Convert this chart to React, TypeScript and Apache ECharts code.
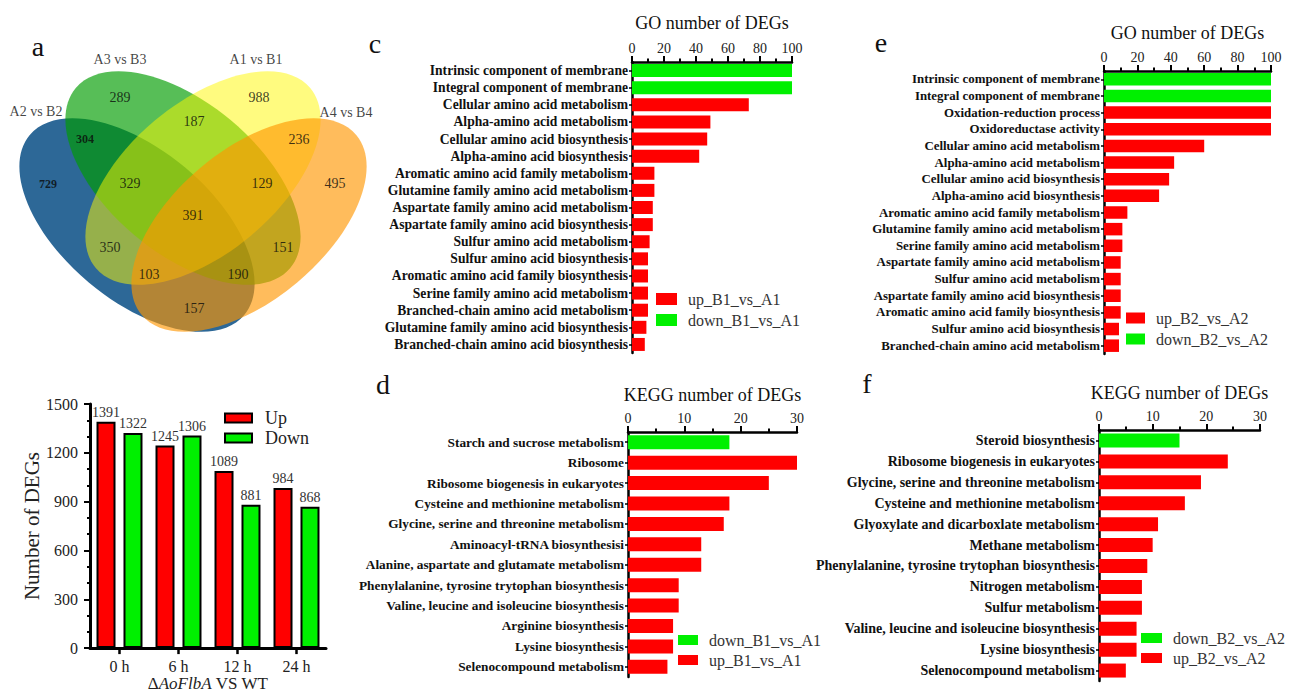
import React, { useEffect, useRef } from "react";
import * as echarts from "echarts";

const FONT = "'Liberation Serif', 'Times New Roman', Times, serif";

// ---------- Panel a: Venn ----------
const vennSets = ["A2 vs B2", "A3 vs B3", "A1 vs B1", "A4 vs B4"];
const vennCounts = [289, 988, 187, 304, 236, 729, 329, 129, 495, 391, 350, 151, 103, 190, 157];
// layout (pixel space of the Venn grid)
const vennCountPos = [
  [120, 97], [259, 97], [194, 121], [85, 139], [299, 139], [48, 184], [130, 183], [262, 183],
  [335, 183], [193, 215], [110, 247], [283, 247], [149, 274], [238, 274], [194, 308],
];
const vennSmall = [304, 729];
const vennSetPos = [[36, 111], [120, 59], [256, 59], [346, 112]];
// cx, cy, rx, ry, angle (deg)
const vennEllipses = [
  [137, 225, 140, 75, -40],
  [183, 178, 140, 75, -40],
  [203, 178, 140, 75, 40],
  [249, 225, 140, 75, 40],
];
const vennColors = ["#0a4f86", "#009c00", "#fff800", "#ff9600"];
const vennAlpha = [0.86, 0.66, 0.5, 0.64];

// ---------- Panel b: DEG bars ----------
const timeCats = ["0 h", "6 h", "12 h", "24 h"];
const upDEGs = [1391, 1245, 1089, 984];
const downDEGs = [1322, 1306, 881, 868];

// ---------- Panel c ----------
const cCategories = [
  "Intrinsic component of membrane", "Integral component of membrane", "Cellular amino acid metabolism",
  "Alpha-amino acid metabolism", "Cellular amino acid biosynthesis", "Alpha-amino acid biosynthesis",
  "Aromatic amino acid family metabolism", "Glutamine family amino acid metabolism",
  "Aspartate family amino acid metabolism", "Aspartate family amino acid biosynthesis",
  "Sulfur amino acid metabolism", "Sulfur amino acid biosynthesis", "Aromatic amino acid family biosynthesis",
  "Serine family amino acid metabolism", "Branched-chain amino acid metabolism",
  "Glutamine family amino acid biosynthesis", "Branched-chain amino acid biosynthesis",
];
const cUp = [null, null, 73, 49, 47, 42, 14, 14, 13, 13, 11, 10, 10, 10, 10, 9, 8];
const cDown = [100, 100, null, null, null, null, null, null, null, null, null, null, null, null, null, null, null];

// ---------- Panel e ----------
const eCategories = [
  "Intrinsic component of membrane", "Integral component of membrane", "Oxidation-reduction process",
  "Oxidoreductase activity", "Cellular amino acid metabolism", "Alpha-amino acid metabolism",
  "Cellular amino acid biosynthesis", "Alpha-amino acid biosynthesis", "Aromatic amino acid family metabolism",
  "Glutamine family amino acid metabolism", "Serine family amino acid metabolism",
  "Aspartate family amino acid metabolism", "Sulfur amino acid metabolism",
  "Aspartate family amino acid biosynthesis", "Aromatic amino acid family biosynthesis",
  "Sulfur amino acid biosynthesis", "Branched-chain amino acid metabolism",
];
const eUp = [null, null, 100, 100, 60, 42, 39, 33, 14, 11, 11, 10, 10, 10, 10, 9, 9];
const eDown = [100, 100, null, null, null, null, null, null, null, null, null, null, null, null, null, null, null];

// ---------- Panel d ----------
const dCategories = [
  "Starch and sucrose metabolism", "Ribosome", "Ribosome biogenesis in eukaryotes",
  "Cysteine and methionine metabolism", "Glycine, serine and threonine metabolism",
  "Aminoacyl-tRNA biosynthesisi", "Alanine, aspartate and glutamate metabolism",
  "Phenylalanine, tyrosine trytophan biosynthesis", "Valine, leucine and isoleucine biosynthesis",
  "Arginine biosynthesis", "Lysine biosynthesis", "Selenocompound metabolism",
];
const dDown = [18, null, null, null, null, null, null, null, null, null, null, null];
const dUp = [null, 30, 25, 18, 17, 13, 13, 9, 9, 8, 8, 7];

// ---------- Panel f ----------
const fCategories = [
  "Steroid biosynthesis", "Ribosome biogenesis in eukaryotes", "Glycine, serine and threonine metabolism",
  "Cysteine and methionine metabolism", "Glyoxylate and dicarboxlate metabolism", "Methane metabolism",
  "Phenylalanine, tyrosine trytophan biosynthesis", "Nitrogen metabolism", "Sulfur metabolism",
  "Valine, leucine and isoleucine biosynthesis", "Lysine biosynthesis", "Selenocompound metabolism",
];
const fDown = [15, null, null, null, null, null, null, null, null, null, null, null];
const fUp = [null, 24, 19, 16, 11, 10, 9, 8, 8, 7, 7, 5];

const RED = "#ff0000";
const GREEN = "#00f000";

type Panel = {
  grid: any; title: string; max: number; interval: number; nameGap: number; labelSize: number;
  cats: string[]; up: (number | null)[]; down: (number | null)[]; upName: string; downName: string;
  barWidth: number; legend: any; legendOrder: string[];
};

const panels: Panel[] = [
  {
    grid: { left: 632, top: 62, width: 160, height: 291 }, title: "GO number of DEGs", max: 100, interval: 20,
    nameGap: 30, labelSize: 13.6, cats: cCategories, up: cUp, down: cDown, upName: "up_B1_vs_A1",
    downName: "down_B1_vs_A1", barWidth: 13,
    legend: { left: 656, top: 291, itemWidth: 21, itemHeight: 12, itemGap: 5 },
    legendOrder: ["up_B1_vs_A1", "down_B1_vs_A1"],
  },
  {
    grid: { left: 1104, top: 71, width: 167, height: 283 }, title: "GO number of DEGs", max: 100, interval: 20,
    nameGap: 29, labelSize: 12.9, cats: eCategories, up: eUp, down: eDown, upName: "up_B2_vs_A2",
    downName: "down_B2_vs_A2", barWidth: 12.5,
    legend: { left: 1126, top: 310, itemWidth: 19, itemHeight: 11, itemGap: 5 },
    legendOrder: ["up_B2_vs_A2", "down_B2_vs_A2"],
  },
  {
    grid: { left: 628, top: 432, width: 169, height: 245 }, title: "KEGG number of DEGs", max: 30, interval: 10,
    nameGap: 28, labelSize: 13.3, cats: dCategories, up: dUp, down: dDown, upName: "up_B1_vs_A1",
    downName: "down_B1_vs_A1", barWidth: 14,
    legend: { left: 678, top: 632, itemWidth: 20, itemHeight: 10, itemGap: 4 },
    legendOrder: ["down_B1_vs_A1", "up_B1_vs_A1"],
  },
  {
    grid: { left: 1099, top: 430, width: 161, height: 251 }, title: "KEGG number of DEGs", max: 30, interval: 10,
    nameGap: 28, labelSize: 14, cats: fCategories, up: fUp, down: fDown, upName: "up_B2_vs_A2",
    downName: "down_B2_vs_A2", barWidth: 14,
    legend: { left: 1141, top: 630, itemWidth: 21, itemHeight: 10, itemGap: 4 },
    legendOrder: ["down_B2_vs_A2", "up_B2_vs_A2"],
  },
];

function buildOption() {
  const grids: any[] = [
    { left: 0, top: 0, width: 380, height: 350 },
    { left: 90, top: 404, width: 236, height: 246 },
  ];
  const xAxes: any[] = [
    { gridIndex: 0, type: "value", min: 0, max: 380, show: false },
    {
      gridIndex: 1, type: "category", data: timeCats,
      axisLine: { lineStyle: { color: "#000", width: 3 } },
      axisTick: { show: true, alignWithLabel: true, length: 6, lineStyle: { color: "#000", width: 2.5 } },
      axisLabel: { fontFamily: FONT, fontSize: 16, color: "#222", margin: 10 },
      name: "Δ{i|AoFlbA} VS WT", nameLocation: "middle", nameGap: 25,
      nameTextStyle: {
        fontFamily: FONT, fontSize: 17, color: "#222",
        rich: { i: { fontFamily: FONT, fontSize: 17, fontStyle: "italic", color: "#222" } },
      },
    },
  ];
  const yAxes: any[] = [
    { gridIndex: 0, type: "value", min: 0, max: 350, inverse: true, show: false },
    {
      gridIndex: 1, type: "value", min: 0, max: 1500, interval: 300,
      axisLine: { show: true, lineStyle: { color: "#000", width: 3 } },
      axisTick: { show: true, length: 6, lineStyle: { color: "#000", width: 2 } },
      minorTick: { show: true, splitNumber: 3, length: 3, lineStyle: { color: "#000", width: 2 } },
      splitLine: { show: false },
      axisLabel: {
        fontFamily: FONT, fontSize: 16, color: "#222", margin: 12,
        formatter: (v: number) => String(v),
      },
      name: "Number of DEGs", nameLocation: "middle", nameGap: 42,
      nameTextStyle: { fontFamily: FONT, fontSize: 21, color: "#222" },
    },
  ];

  const series: any[] = [
    {
      type: "custom", xAxisIndex: 0, yAxisIndex: 0, silent: true,
      data: vennEllipses,
      renderItem: (params: any, api: any) => {
        const i = params.dataIndex;
        const p = api.coord([api.value(0), api.value(1)]);
        const s = api.size([api.value(2), api.value(3)]);
        return {
          type: "ellipse", x: p[0], y: p[1], rotation: (api.value(4) * Math.PI) / 180,
          shape: { cx: 0, cy: 0, rx: s[0], ry: s[1] },
          style: { fill: vennColors[i], opacity: vennAlpha[i] },
        };
      },
      z: 1,
    },
    {
      type: "scatter", xAxisIndex: 0, yAxisIndex: 0, symbolSize: 0, silent: true, z: 5,
      data: vennCounts.map((v, i) => ({
        value: [vennCountPos[i][0], vennCountPos[i][1], v],
        label: vennSmall.includes(v) ? { fontSize: 12, fontWeight: "bold" } : {},
      })),
      label: {
        show: true, position: "inside", formatter: (p: any) => String(p.value[2]),
        fontFamily: FONT, fontSize: 14, color: "#0a0a0a",
      },
    },
    {
      type: "scatter", xAxisIndex: 0, yAxisIndex: 0, symbolSize: 0, silent: true, z: 5,
      data: vennSets.map((n, i) => ({ value: [vennSetPos[i][0], vennSetPos[i][1]], name: n })),
      label: {
        show: true, position: "inside", formatter: (p: any) => p.name,
        fontFamily: FONT, fontSize: 14, color: "#111",
      },
    },
    {
      name: "Up", type: "bar", xAxisIndex: 1, yAxisIndex: 1, data: upDEGs, barWidth: 19, barGap: "42%",
      itemStyle: { color: RED, borderColor: "#000", borderWidth: 2 },
      label: { show: true, position: "top", distance: 2, fontFamily: FONT, fontSize: 14, color: "#333" },
    },
    {
      name: "Down", type: "bar", xAxisIndex: 1, yAxisIndex: 1, data: downDEGs, barWidth: 19, barGap: "42%",
      itemStyle: { color: GREEN, borderColor: "#000", borderWidth: 2 },
      label: { show: true, position: "top", distance: 2, fontFamily: FONT, fontSize: 14, color: "#333" },
    },
  ];

  const legends: any[] = [
    {
      data: ["Up", "Down"], left: 224, top: 409, orient: "vertical", icon: "rect", padding: 0,
      itemWidth: 27, itemHeight: 9, itemGap: 2,
      itemStyle: { borderColor: "#000", borderWidth: 2 },
      textStyle: { fontFamily: FONT, fontSize: 18, color: "#222", padding: [0, 0, 0, 8] },
    },
  ];

  panels.forEach((p, k) => {
    const gi = k + 2;
    grids.push(p.grid);
    xAxes.push({
      gridIndex: gi, type: "value", position: "top", min: 0, max: p.max, interval: p.interval,
      name: p.title, nameLocation: "middle", nameGap: p.nameGap,
      nameTextStyle: { fontFamily: FONT, fontSize: 18, color: "#111" },
      axisLine: { show: true, lineStyle: { color: "#000", width: 2.5 } },
      axisTick: { show: true, length: 6, lineStyle: { color: "#000", width: 2 } },
      minorTick: { show: true, splitNumber: 2, length: 3.5, lineStyle: { color: "#000", width: 2 } },
      splitLine: { show: false },
      axisLabel: { fontFamily: FONT, fontSize: 14, color: "#222", margin: 7 },
    });
    yAxes.push({
      gridIndex: gi, type: "category", inverse: true, data: p.cats,
      axisLine: { show: true, lineStyle: { color: "#000", width: 2.5 } },
      axisTick: { show: true, alignWithLabel: true, length: 3, lineStyle: { color: "#000", width: 1.5 } },
      axisLabel: {
        fontFamily: FONT, fontWeight: "bold", fontSize: p.labelSize, color: "#111", margin: 4, interval: 0,
      },
    });
    series.push({
      name: p.upName, type: "bar", xAxisIndex: gi, yAxisIndex: gi, stack: "s" + gi, data: p.up,
      barWidth: p.barWidth, itemStyle: { color: RED },
    });
    series.push({
      name: p.downName, type: "bar", xAxisIndex: gi, yAxisIndex: gi, stack: "s" + gi, data: p.down,
      barWidth: p.barWidth, itemStyle: { color: GREEN },
    });
    legends.push({
      ...p.legend, data: p.legendOrder, orient: "vertical", icon: "rect", padding: 0,
      textStyle: { fontFamily: FONT, fontSize: 16, color: "#333", padding: [0, 0, 0, 6] },
    });
  });

  const letters = [
    ["a", 38, 46], ["c", 375, 43], ["e", 881, 42], ["d", 383, 384], ["f", 867, 383],
  ];

  return {
    animation: false,
    backgroundColor: "#fff",
    grid: grids,
    xAxis: xAxes,
    yAxis: yAxes,
    legend: legends,
    series,
    graphic: letters.map((l) => ({
      type: "text", x: l[1] as number, y: l[2] as number, silent: true,
      style: {
        text: l[0] as string, fontFamily: FONT, fontSize: 28, fill: "#111",
        align: "center", verticalAlign: "middle", textAlign: "center", textVerticalAlign: "middle",
      },
    })),
  };
}

export default function App() {
  const ref = useRef<HTMLDivElement>(null);
  useEffect(() => {
    const chart = echarts.init(ref.current!, null, { renderer: "svg" });
    chart.setOption(buildOption() as any);
    return () => chart.dispose();
  }, []);
  return (
    <div
      ref={ref}
      style={{ position: "fixed", left: 0, top: 0, width: 1295, height: 693, background: "#fff" }}
    />
  );
}
